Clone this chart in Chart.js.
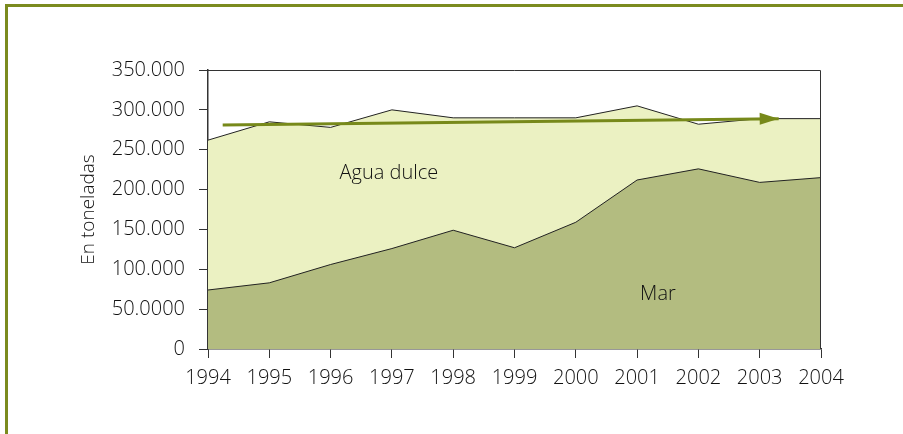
<!DOCTYPE html>
<html>
<head>
<meta charset="utf-8">
<script src="https://cdn.jsdelivr.net/npm/chart.js@4"></script>
<style>
html, body { margin: 0; padding: 0; background: #fff; }
#frame { position: absolute; left: 5px; top: 4px; width: 898px; height: 430px; box-sizing: border-box;
  border-left: 3px solid #7b8b1f; border-top: 3px solid #7b8b1f; }
canvas { position: absolute; left: 0; top: 0; }
</style>
</head>
<body>
<div id="frame"></div>
<canvas id="chart" width="903" height="434"></canvas>
<script>
// data (toneladas)
const years = [1994, 1995, 1996, 1997, 1998, 1999, 2000, 2001, 2002, 2003, 2004];
const total = [262000, 285000, 278000, 300000, 290000, 290000, 290000, 305000, 282000, 289000, 289000];
const mar = [74000, 83000, 106000, 126000, 149000, 127000, 159000, 212000, 226000, 209000, 215000];
const yTicks = [0, 50000, 100000, 150000, 200000, 250000, 300000, 350000];
const yTickLabels = ['0', '50.0000', '100.000', '150.000', '200.000', '250.000', '300.000', '350.000'];
const trendX = [1994.24, 2003.31];
const trendY = [281000, 289000];
const areaLabels = ['Agua dulce', 'Mar'];

const FONT = '"Open Sans", sans-serif';
const ink = '#111';

const pts = (xs, ys) => xs.map((x, i) => ({ x: x, y: ys[i] }));

const extras = {
    id: 'extras',
    afterDatasetsDraw(chart) {
        const { ctx, chartArea, scales: { x, y } } = chart;
        ctx.save();
        // top and right sides of the plot box
        ctx.strokeStyle = '#333';
        ctx.lineWidth = 1;
        ctx.beginPath();
        ctx.moveTo(chartArea.left, chartArea.top + 0.5);
        ctx.lineTo(chartArea.right - 0.5, chartArea.top + 0.5);
        ctx.lineTo(chartArea.right - 0.5, chartArea.bottom);
        ctx.stroke();

        // area names
        ctx.font = '300 20px ' + FONT;
        ctx.fillStyle = ink;
        ctx.textAlign = 'center';
        ctx.textBaseline = 'middle';
        ctx.fillText(areaLabels[0], x.getPixelForValue(1996.95), y.getPixelForValue(221000));
        ctx.fillText(areaLabels[1], x.getPixelForValue(2001.34), y.getPixelForValue(69000));

        // arrow head at the end of the trend line
        const p = chart.getDatasetMeta(2).data;
        const a = p[0], b = p[p.length - 1];
        ctx.translate(b.x, b.y);
        ctx.rotate(Math.atan2(b.y - a.y, b.x - a.x));
        ctx.fillStyle = '#77891a';
        ctx.beginPath();
        ctx.moveTo(0, 0);
        ctx.lineTo(-19, -6);
        ctx.lineTo(-19, 6);
        ctx.closePath();
        ctx.fill();
        ctx.restore();
    }
};

new Chart(document.getElementById('chart'), {
    type: 'line',
    data: {
        datasets: [{
            label: 'Agua dulce',
            data: pts(years, total),
            backgroundColor: '#ebf1c2',
            borderColor: '#222',
            borderWidth: 1,
            fill: 'origin',
            pointRadius: 0,
            tension: 0,
            order: 3
        }, {
            label: 'Mar',
            data: pts(years, mar),
            backgroundColor: '#b3bc80',
            borderColor: '#222',
            borderWidth: 1,
            fill: 'origin',
            pointRadius: 0,
            tension: 0,
            order: 2
        }, {
            label: 'Tendencia',
            data: pts(trendX, trendY),
            borderColor: '#77891a',
            borderWidth: 3,
            fill: false,
            pointRadius: 0,
            order: 1
        }]
    },
    options: {
        responsive: false,
        animation: false,
        devicePixelRatio: 1,
        layout: { padding: { left: 68, right: 82, top: 70, bottom: 45 } },
        plugins: { legend: { display: false }, tooltip: { enabled: false } },
        scales: {
            x: {
                type: 'linear',
                min: 1994,
                max: 2004,
                afterFit(scale) { scale.height = 40; },
                afterBuildTicks(scale) { scale.ticks = years.map(v => ({ value: v })); },
                grid: { drawOnChartArea: false, drawTicks: true, tickLength: 9, color: '#333' },
                border: { color: '#333', width: 1.5 },
                ticks: {
                    padding: 8,
                    maxRotation: 0,
                    autoSkip: false,
                    color: ink,
                    font: { family: FONT, size: 20, weight: 300 },
                    callback: v => String(v)
                }
            },
            y: {
                min: 0,
                max: 350000,
                afterFit(scale) { scale.width = 140; },
                afterBuildTicks(scale) { scale.ticks = yTicks.map(v => ({ value: v })); },
                grid: { drawOnChartArea: false, drawTicks: true, tickLength: 9, color: '#333' },
                border: { color: '#333', width: 1.5 },
                title: { display: true, text: 'En toneladas', color: ink, font: { family: FONT, size: 19, weight: 300 }, padding: { top: 9, bottom: 0 } },
                ticks: {
                    padding: 14,
                    color: ink,
                    font: { family: FONT, size: 20, weight: 300 },
                    callback: v => yTickLabels[yTicks.indexOf(v)]
                }
            }
        }
    },
    plugins: [extras]
});
</script>
</body>
</html>
